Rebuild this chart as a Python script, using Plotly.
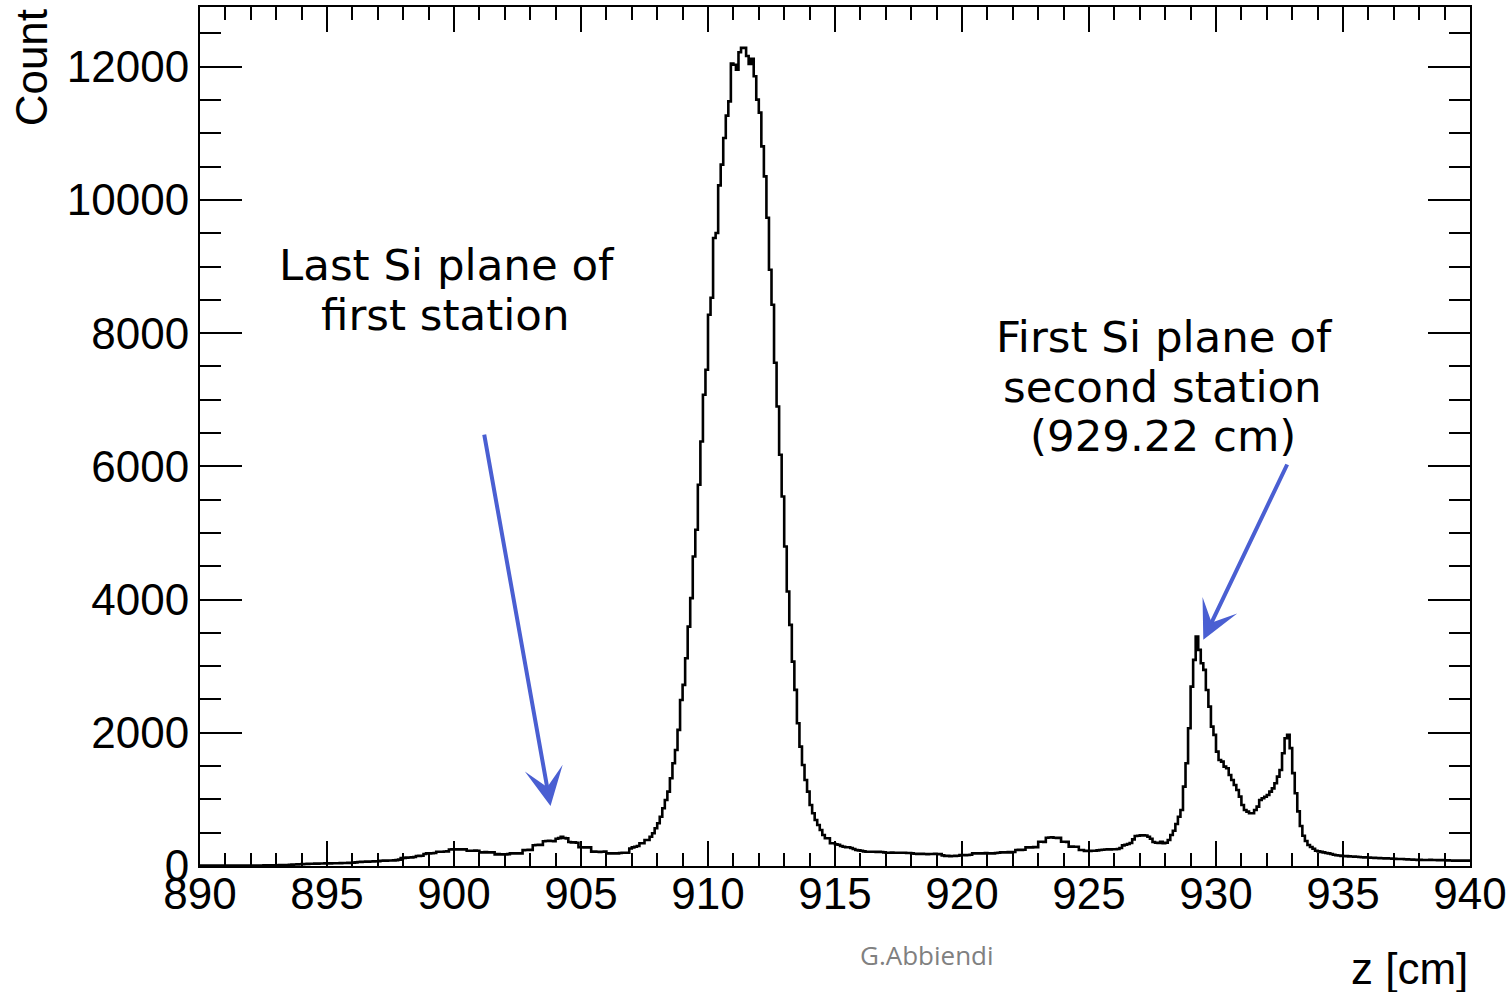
import numpy as np
import plotly.graph_objects as go

# Reconstructed vertex z distribution: 500 bins of 0.1 cm from 890 to 940 cm
Z_MIN = 890.0
BIN_WIDTH = 0.1

counts = [
    # 890
    5, 5, 5, 5, 5, 5, 5, 5, 5, 5,
    # 891
    5, 5, 5, 5, 5, 5, 5, 6, 6, 6,
    # 892
    6, 7, 7, 8, 8, 9, 9, 10, 10, 11,
    # 893
    12, 13, 14, 15, 16, 18, 20, 22, 24, 26,
    # 894
    28, 30, 32, 33, 34, 35, 36, 37, 38, 39,
    # 895
    40, 40, 41, 42, 42, 43, 44, 45, 47, 48,
    # 896
    50, 55, 60, 62, 64, 65, 66, 68, 70, 72,
    # 897
    72, 78, 80, 80, 82, 82, 85, 88, 95, 118,
    # 898
    122, 125, 128, 130, 135, 150, 152, 155, 180, 190,
    # 899
    190, 192, 195, 215, 215, 215, 218, 220, 248, 250,
    # 900
    250, 252, 250, 248, 252, 230, 230, 228, 232, 230,
    # 901
    205, 205, 208, 205, 202, 205, 175, 178, 175, 172,
    # 902
    175, 178, 190, 192, 188, 190, 190, 238, 240, 242,
    # 903
    240, 312, 315, 318, 315, 372, 375, 378, 375, 372,
    # 904
    410, 418, 440, 420, 415, 360, 355, 356, 350, 282,
    # 905
    282, 280, 278, 282, 215, 218, 215, 212, 215, 218,
    # 906
    190, 188, 190, 192, 190, 195, 198, 200, 200, 262,
    # 907
    280, 290, 300, 341, 341, 391, 391, 440, 491, 566,
    # 908
    641, 740, 867, 991, 1116, 1317, 1543, 1742, 2043, 2493,
    # 909
    2719, 3120, 3594, 4021, 4646, 5047, 5723, 6373, 7074, 7450,
    # 910
    8276, 8531, 9428, 9503, 10218, 10529, 10930, 11265, 11480, 12046,
    # 911
    12030, 11956, 12216, 12282, 12282, 12160, 12040, 12117, 11856, 11505,
    # 912
    11310, 10804, 10353, 9733, 8952, 8426, 7555, 6899, 6173, 5547,
    # 913
    4796, 4120, 3620, 3069, 2644, 2143, 1792, 1517, 1292, 1116,
    # 914
    916, 792, 691, 616, 541, 466, 416, 416, 341, 341,
    # 915
    326, 320, 300, 290, 281, 281, 270, 255, 240, 235,
    # 916
    230, 220, 215, 215, 215, 215, 212, 212, 210, 205,
    # 917
    200, 200, 202, 200, 198, 200, 200, 198, 196, 195,
    # 918
    190, 185, 182, 180, 182, 180, 178, 180, 180, 182,
    # 919
    180, 178, 160, 150, 152, 148, 150, 152, 155, 165,
    # 920
    165, 162, 165, 168, 190, 188, 190, 192, 190, 195,
    # 921
    190, 192, 190, 195, 198, 205, 205, 205, 208, 205,
    # 922
    210, 240, 242, 240, 245, 280, 282, 280, 285, 282,
    # 923
    365, 365, 362, 425, 428, 430, 425, 420, 425, 365,
    # 924
    365, 362, 290, 292, 288, 290, 240, 240, 225, 228,
    # 925
    225, 228, 230, 235, 240, 245, 248, 250, 250, 252,
    # 926
    252, 255, 270, 310, 320, 330, 345, 400, 450, 455,
    # 927
    460, 462, 458, 440, 410, 360, 350, 345, 365, 341,
    # 928
    350, 390, 466, 530, 631, 740, 841, 1191, 1542, 2068,
    # 929
    2693, 3094, 3444, 3244, 3044, 2944, 2643, 2393, 2093, 1968,
    # 930
    1717, 1592, 1567, 1492, 1467, 1367, 1292, 1217, 1142, 1041,
    # 931
    916, 841, 816, 791, 791, 841, 891, 991, 1017, 1040,
    # 932
    1066, 1116, 1166, 1242, 1342, 1442, 1693, 1918, 1968, 1770,
    # 933
    1395, 1092, 820, 600, 455, 375, 315, 285, 260, 230,
    # 934
    220, 212, 205, 195, 190, 180, 168, 162, 158, 152,
    # 935
    150, 148, 145, 142, 140, 138, 135, 132, 130, 128,
    # 936
    125, 124, 122, 120, 118, 116, 115, 114, 112, 110,
    # 937
    108, 106, 105, 104, 102, 100, 98, 96, 94, 92,
    # 938
    92, 91, 90, 90, 92, 90, 89, 88, 90, 88,
    # 939
    86, 85, 82, 80, 82, 80, 80, 81, 79, 80,
]

x_tick_vals = [890, 895, 900, 905, 910, 915, 920, 925, 930, 935, 940]
x_tick_text = ["890", "895", "900", "905", "910", "915", "920", "925", "930", "935", "940"]
y_tick_vals = [0, 2000, 4000, 6000, 8000, 10000, 12000]
y_tick_text = ["0", "2000", "4000", "6000", "8000", "10000", "12000"]

# Step outline: left edges of every bin plus the final right edge
edges = Z_MIN + BIN_WIDTH * np.arange(len(counts) + 1)
step_y = list(counts) + [counts[-1]]

ROOT_FONT = "Liberation Sans, Arial, Helvetica, sans-serif"
NOTE_FONT = "DejaVu Sans, Verdana, sans-serif"
ARROW_BLUE = "#4a5fd2"

fig = go.Figure()
fig.add_trace(
    go.Scatter(
        x=edges,
        y=step_y,
        mode="lines",
        line=dict(color="black", width=2.6, shape="hv"),
        hoverinfo="skip",
        showlegend=False,
    )
)

y_top = 1.05 * max(counts)

fig.update_layout(
    width=1511,
    height=992,
    margin=dict(l=200, r=41, t=7, b=126),
    paper_bgcolor="white",
    plot_bgcolor="white",
    font=dict(family=ROOT_FONT, size=44, color="black"),
    xaxis=dict(
        range=[890, 940],
        tickvals=x_tick_vals,
        ticktext=x_tick_text,
        ticks="inside",
        ticklen=25,
        tickwidth=1.5,
        tickcolor="black",
        minor=dict(ticks="inside", ticklen=13, dtick=1, tickwidth=1.5, tickcolor="black"),
        showline=True,
        linecolor="black",
        linewidth=2,
        mirror="ticks",
        showgrid=False,
        zeroline=False,
        automargin=False,
        ticklabelstandoff=-12,
        tickfont=dict(family=ROOT_FONT, size=44, color="black"),
    ),
    yaxis=dict(
        range=[0, y_top],
        tickvals=y_tick_vals,
        ticktext=y_tick_text,
        ticks="inside",
        ticklen=42,
        tickwidth=1.5,
        tickcolor="black",
        minor=dict(ticks="inside", ticklen=21, dtick=500, tickwidth=1.5, tickcolor="black"),
        showline=True,
        linecolor="black",
        linewidth=2,
        mirror="ticks",
        showgrid=False,
        zeroline=False,
        automargin=False,
        tickfont=dict(family=ROOT_FONT, size=44, color="black"),
    ),
)

annotations = [
    # axis titles
    dict(text="Count", xref="paper", yref="paper", x=-0.132, y=0.929,
         xanchor="center", yanchor="middle", textangle=-90, showarrow=False,
         font=dict(family=ROOT_FONT, size=44, color="black")),
    dict(text="z [cm]", xref="paper", yref="paper", x=1.0, y=-0.119,
         xanchor="right", yanchor="middle", showarrow=False,
         font=dict(family=ROOT_FONT, size=44, color="black")),
    # credit
    dict(text="G.Abbiendi", xref="paper", yref="paper", x=0.5724, y=-0.104,
         xanchor="center", yanchor="middle", showarrow=False,
         font=dict(family="Open Sans, sans-serif", size=26, color="#808080")),
    # left note
    dict(text="Last Si plane of", xref="paper", yref="paper", x=0.1945, y=0.6995,
         xanchor="center", yanchor="middle", showarrow=False,
         font=dict(family=NOTE_FONT, size=43.5, color="black")),
    dict(text="first station", xref="paper", yref="paper", x=0.1937, y=0.642,
         xanchor="center", yanchor="middle", showarrow=False,
         font=dict(family=NOTE_FONT, size=43.5, color="black")),
    # right note
    dict(text="First Si plane of", xref="paper", yref="paper", x=0.7591, y=0.6163,
         xanchor="center", yanchor="middle", showarrow=False,
         font=dict(family=NOTE_FONT, size=43.5, color="black")),
    dict(text="second station", xref="paper", yref="paper", x=0.7575, y=0.558,
         xanchor="center", yanchor="middle", showarrow=False,
         font=dict(family=NOTE_FONT, size=43.5, color="black")),
    dict(text="(929.22 cm)", xref="paper", yref="paper", x=0.7583, y=0.5007,
         xanchor="center", yanchor="middle", showarrow=False,
         font=dict(family=NOTE_FONT, size=43.5, color="black")),
    # arrows
    dict(text="", x=903.8, y=900, xref="x", yref="y",
         ax=901.18, ay=6500, axref="x", ayref="y",
         showarrow=True, arrowhead=3, arrowsize=1.6, arrowwidth=4,
         arrowcolor=ARROW_BLUE, standoff=0),
    dict(text="", x=929.5, y=3395, xref="x", yref="y",
         ax=932.83, ay=6050, axref="x", ayref="y",
         showarrow=True, arrowhead=3, arrowsize=1.6, arrowwidth=4,
         arrowcolor=ARROW_BLUE, standoff=0),
]
fig.update_layout(annotations=annotations)

fig.write_html("out.html")
